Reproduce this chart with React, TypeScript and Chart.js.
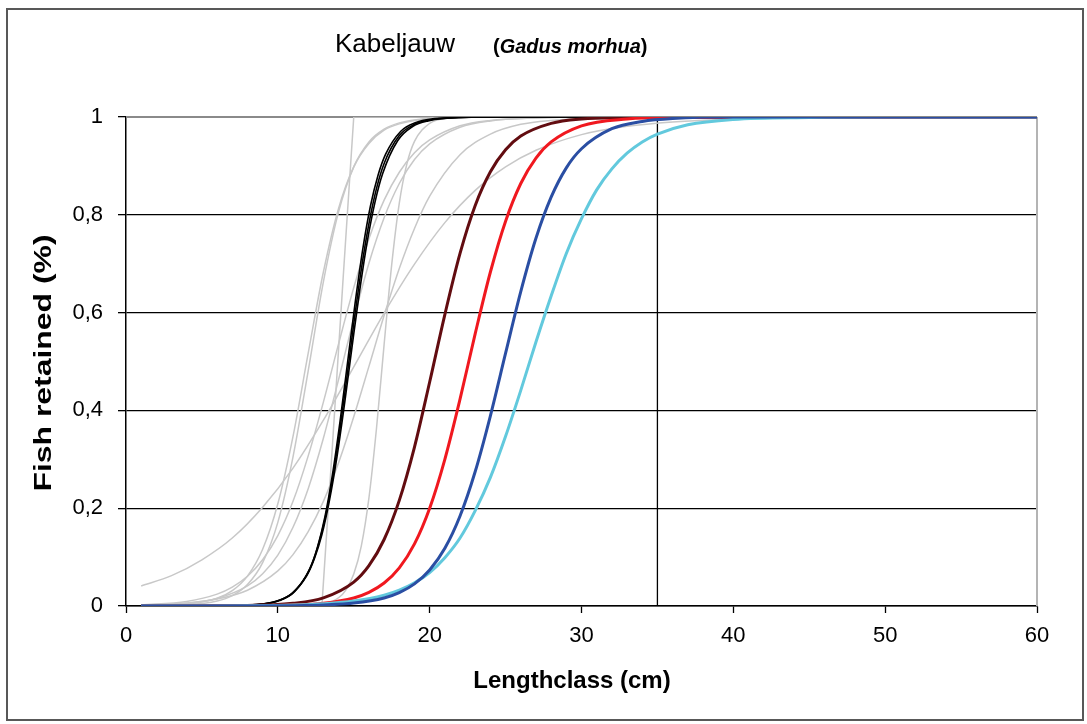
import { useEffect, useRef } from "react";
import { Chart, registerables } from "chart.js";

Chart.register(...registerables);

// ---------- texts ----------
const chartTitle = "Kabeljauw";
const chartSubtitle = "Gadus morhua";
const xAxisTitle = "Lengthclass (cm)";
const yAxisTitle = "Fish retained (%)";

// ---------- axes ----------
const xMin = 0;
const xMax = 60;
const xStep = 10;
const yMin = 0;
const yMax = 1;
const yStep = 0.2;
const referenceLength = 35;

// ---------- series: [length (cm), fraction retained] ----------
const curveBlue = [
  [1, 0], [8, 0.0002], [11, 0.0007], [13, 0.0021], [15, 0.0059], [17, 0.0165], [18, 0.0274],
  [19, 0.0452], [20, 0.0738], [21, 0.118], [22, 0.184], [23, 0.275], [24, 0.389], [25, 0.517],
  [26, 0.643], [27, 0.752], [28, 0.836], [29, 0.896], [30, 0.935], [32, 0.976], [34, 0.991],
  [36, 0.997], [40, 1], [60, 1],
];
const curveCyan = [
  [1, 0], [5, 0.0002], [8, 0.0006], [11, 0.0021], [13, 0.0046], [15, 0.0101], [17, 0.0221],
  [18, 0.0323], [19, 0.0474], [20, 0.0685], [21, 0.0988], [22, 0.139], [23, 0.195], [24, 0.263],
  [25, 0.347], [26, 0.441], [27, 0.54], [28, 0.634], [29, 0.721], [30, 0.792], [31, 0.851],
  [32, 0.894], [33, 0.926], [34, 0.949], [35, 0.965], [37, 0.984], [40, 0.995], [45, 0.999],
  [50, 1], [60, 1],
];
const curveRed = [
  [1, 0], [8, 0.0004], [11, 0.0019], [13, 0.0056], [15, 0.0165], [16, 0.0279], [17, 0.047],
  [18, 0.078], [19, 0.127], [20, 0.2], [21, 0.3], [22, 0.423], [23, 0.557], [24, 0.683],
  [25, 0.787], [26, 0.864], [27, 0.916], [28, 0.949], [30, 0.982], [33, 0.996], [36, 0.999],
  [60, 1],
];
const curveMaroon = [
  [1, 0], [8, 0.001], [11, 0.0054], [13, 0.0165], [15, 0.0488], [16, 0.0824], [17, 0.136],
  [18, 0.216], [19, 0.325], [20, 0.458], [21, 0.596], [22, 0.721], [23, 0.819], [24, 0.888],
  [25, 0.933], [26, 0.961], [28, 0.987], [30, 0.996], [33, 0.999], [36, 1], [60, 1],
];
const curveBlackA = [
  [1, 0], [5.1, 0.0001], [8.1, 0.0015], [9.1, 0.0041], [10.1, 0.011], [11.1, 0.0293],
  [12.1, 0.0759], [12.6, 0.119], [13.1, 0.182], [13.6, 0.269], [14.1, 0.378], [14.6, 0.5],
  [15.1, 0.622], [15.6, 0.731], [16.1, 0.818], [16.6, 0.881], [17.1, 0.924], [18.1, 0.971],
  [19.1, 0.989], [20.1, 0.996], [22.1, 0.999], [25, 1], [60, 1],
];
const curveBlackB = [
  [1, 0], [5, 0.0001], [8, 0.0015], [9, 0.004], [10, 0.0106], [11, 0.0274], [12, 0.0691],
  [12.5, 0.108], [13, 0.164], [13.5, 0.241], [14, 0.341], [14.5, 0.456], [15, 0.577], [15.5, 0.689],
  [16, 0.782], [16.5, 0.854], [17, 0.905], [18, 0.962], [19, 0.985], [20, 0.994], [22, 0.999],
  [25, 1], [60, 1],
];
const curveBlackC = [
  [1, 0], [4.9, 0.0001], [7.9, 0.0015], [8.9, 0.0038], [9.9, 0.0098], [10.9, 0.0248],
  [11.9, 0.0618], [12.4, 0.0962], [12.9, 0.1456], [13.4, 0.216], [13.9, 0.306], [14.4, 0.415],
  [14.9, 0.533], [15.4, 0.647], [15.9, 0.747], [16.4, 0.826], [16.9, 0.884], [17.9, 0.952],
  [18.9, 0.981], [19.9, 0.992], [21.9, 0.999], [25, 1], [60, 1],
];
const curveGray1 = [
  [1, 0.041], [3, 0.062], [5, 0.0945], [7, 0.139], [9, 0.202], [11, 0.282], [13, 0.38],
  [15, 0.489], [17, 0.599], [19, 0.699], [21, 0.784], [23, 0.85], [25, 0.898], [27, 0.932],
  [30, 0.964], [33, 0.981], [36, 0.99], [40, 0.996], [45, 0.999], [50, 1], [60, 1],
];
const curveGray2 = [
  [1, 0], [10, 0.0001], [12, 0.001], [13, 0.0042], [14, 0.0169], [14.5, 0.0336], [15, 0.0653],
  [15.5, 0.123], [16, 0.221], [16.5, 0.364], [17, 0.535], [17.5, 0.698], [18, 0.824],
  [18.5, 0.904], [19, 0.95], [20, 0.987], [21, 0.997], [23, 1], [60, 1],
];
const curveGray3 = [
  [1, 0], [12.9, 0], [13.6, 0.33], [14.3, 0.67], [15, 1], [60, 1],
];
const curveGray4 = [
  [1, 0.0002], [4, 0.0023], [6, 0.0101], [7, 0.0212], [8, 0.0439], [9, 0.0887], [10, 0.171],
  [11, 0.305], [12, 0.481], [13, 0.663], [14, 0.806], [15, 0.898], [16, 0.949], [17, 0.975],
  [18, 0.988], [20, 0.997], [23, 1], [60, 1],
];
const curveGray5 = [
  [1, 0.0022], [4, 0.0094], [6, 0.0242], [7, 0.0385], [8, 0.0608], [9, 0.0945], [10, 0.144],
  [11, 0.214], [12, 0.307], [13, 0.417], [14, 0.536], [15, 0.651], [16, 0.751], [17, 0.83],
  [18, 0.887], [19, 0.927], [20, 0.953], [22, 0.982], [24, 0.993], [27, 0.998], [30, 1], [60, 1],
];
const curveGray6 = [
  [1, 0.0013], [4, 0.0058], [6, 0.0155], [8, 0.041], [9, 0.066], [10, 0.104], [11, 0.161],
  [12, 0.24], [13, 0.343], [14, 0.463], [15, 0.587], [16, 0.701], [17, 0.794], [18, 0.864],
  [19, 0.913], [20, 0.945], [22, 0.979], [24, 0.992], [27, 0.998], [30, 1], [60, 1],
];
const curveGray7 = [
  [1, 0.0018], [4, 0.0062], [6, 0.0142], [8, 0.0323], [10, 0.0717], [11, 0.105], [12, 0.152],
  [13, 0.214], [14, 0.293], [15, 0.387], [16, 0.49], [17, 0.594], [18, 0.69], [19, 0.772],
  [20, 0.838], [22, 0.923], [24, 0.965], [26, 0.985], [28, 0.993], [32, 0.999], [40, 1], [60, 1],
];
const curveGray8 = [
  [1, 0.0005], [4, 0.004], [6, 0.0158], [7, 0.0314], [8, 0.0612], [9, 0.116], [10, 0.209],
  [11, 0.347], [12, 0.517], [13, 0.683], [14, 0.813], [15, 0.898], [16, 0.946], [17, 0.973],
  [18, 0.986], [20, 0.997], [23, 1], [60, 1],
];

// ---------- styles ----------
const FONT = '"Liberation Sans", Arial, sans-serif';
const GRAY = "#c8c8c8";

const toPoints = (arr: number[][]) => arr.map(([x, y]) => ({ x, y }));

const colouredSeries = [
  { data: curveBlue, color: "#2a4ea3", width: 3 },
  { data: curveCyan, color: "#62c9dd", width: 3 },
  { data: curveRed, color: "#f0181f", width: 3 },
  { data: curveMaroon, color: "#620c10", width: 3 },
  { data: curveBlackA, color: "#000000", width: 1.6 },
  { data: curveBlackB, color: "#000000", width: 1.6 },
  { data: curveBlackC, color: "#000000", width: 1.6 },
];
const graySeries = [
  curveGray1, curveGray2, curveGray4, curveGray5, curveGray6, curveGray7, curveGray8,
];

const decorPlugin = {
  id: "decor",
  beforeDraw(chart: any) {
    const { ctx } = chart;
    ctx.save();
    ctx.fillStyle = "#ffffff";
    ctx.fillRect(0, 0, chart.width, chart.height);
    ctx.restore();
  },
  beforeDatasetsDraw(chart: any) {
    const { ctx, chartArea: a, scales } = chart;
    const xr = scales.x.getPixelForValue(referenceLength);
    ctx.save();
    ctx.strokeStyle = "#000";
    ctx.lineWidth = 1.3;
    ctx.beginPath();
    ctx.moveTo(xr, a.top);
    ctx.lineTo(xr, a.bottom);
    ctx.stroke();
    ctx.strokeStyle = "#8a8a8a";
    ctx.lineWidth = 2;
    ctx.beginPath();
    ctx.moveTo(a.left, a.top);
    ctx.lineTo(a.right, a.top);
    ctx.stroke();
    ctx.strokeStyle = "#b4b4b4";
    ctx.beginPath();
    ctx.moveTo(a.right, a.top);
    ctx.lineTo(a.right, a.bottom);
    ctx.stroke();
    ctx.restore();
  },
  afterDraw(chart: any) {
    const { ctx } = chart;
    ctx.save();
    // outer frame
    ctx.strokeStyle = "#585858";
    ctx.lineWidth = 2;
    ctx.strokeRect(7, 9, 1076, 711);
    // title
    ctx.fillStyle = "#000";
    ctx.textBaseline = "alphabetic";
    ctx.textAlign = "left";
    ctx.font = `26px ${FONT}`;
    ctx.fillText(chartTitle, 335, 52);
    let x = 493;
    ctx.font = `bold 20px ${FONT}`;
    ctx.fillText("(", x, 53);
    x += ctx.measureText("(").width;
    ctx.font = `italic bold 20px ${FONT}`;
    ctx.fillText(chartSubtitle, x, 53);
    x += ctx.measureText(chartSubtitle).width;
    ctx.font = `bold 20px ${FONT}`;
    ctx.fillText(")", x, 53);
    // axis titles
    ctx.font = `bold 24px ${FONT}`;
    ctx.textAlign = "center";
    ctx.textBaseline = "middle";
    ctx.fillText(xAxisTitle, 572, 681);
    ctx.translate(44, 363);
    ctx.rotate(-Math.PI / 2);
    ctx.scale(1.33, 1);
    ctx.fillText(yAxisTitle, 0, 0);
    ctx.restore();
  },
};

export default function App() {
  const ref = useRef<HTMLCanvasElement | null>(null);

  useEffect(() => {
    if (!ref.current) return;
    const datasets: any[] = [];
    colouredSeries.forEach((s) => {
      datasets.push({
        data: toPoints(s.data),
        borderColor: s.color,
        borderWidth: s.width,
        showLine: true,
        pointRadius: 0,
        cubicInterpolationMode: "monotone",
        fill: false,
      });
    });
    graySeries.forEach((g) => {
      datasets.push({
        data: toPoints(g),
        borderColor: GRAY,
        borderWidth: 1.5,
        showLine: true,
        pointRadius: 0,
        cubicInterpolationMode: "monotone",
        fill: false,
      });
    });
    datasets.push({
      data: toPoints(curveGray3),
      borderColor: GRAY,
      borderWidth: 1.5,
      showLine: true,
      pointRadius: 0,
      tension: 0,
      fill: false,
    });

    const chart = new Chart(ref.current, {
      type: "scatter",
      data: { datasets },
      plugins: [decorPlugin],
      options: {
        animation: false,
        responsive: false,
        devicePixelRatio: 1,
        layout: { padding: { left: 0, top: 117, right: 50, bottom: 0 } },
        plugins: {
          legend: { display: false },
          tooltip: { enabled: false },
          title: { display: false },
        },
        scales: {
          x: {
            type: "linear",
            min: xMin,
            max: xMax,
            afterFit: (s: any) => {
              s.height = 118;
            },
            ticks: {
              stepSize: xStep,
              color: "#000",
              font: { family: FONT, size: 22 },
              padding: 10,
              maxRotation: 0,
            },
            grid: {
              drawOnChartArea: false,
              drawTicks: true,
              tickLength: 7,
              tickColor: "#000",
              tickWidth: 1.3,
            },
            border: { color: "#000", width: 1.5 },
          },
          y: {
            type: "linear",
            min: yMin,
            max: yMax,
            afterFit: (s: any) => {
              s.width = 126;
            },
            ticks: {
              stepSize: yStep,
              color: "#000",
              font: { family: FONT, size: 22 },
              padding: 15,
              callback: (v: any) => String(Math.round(Number(v) * 10) / 10).replace(".", ","),
            },
            grid: {
              drawOnChartArea: true,
              color: (c: any) => (c.tick && Math.abs(c.tick.value - 1) < 1e-6 ? "#8a8a8a" : "#000"),
              lineWidth: 1.3,
              tickLength: 8,
              tickColor: "#000",
              tickWidth: 1.3,
            },
            border: { color: "#000", width: 1.5 },
          },
        },
      },
    });
    return () => chart.destroy();
  }, []);

  return (
    <div style={{ position: "fixed", left: 0, top: 0, width: 1087, height: 724, background: "#fff" }}>
      <canvas ref={ref} width={1087} height={724} style={{ display: "block" }} />
    </div>
  );
}
